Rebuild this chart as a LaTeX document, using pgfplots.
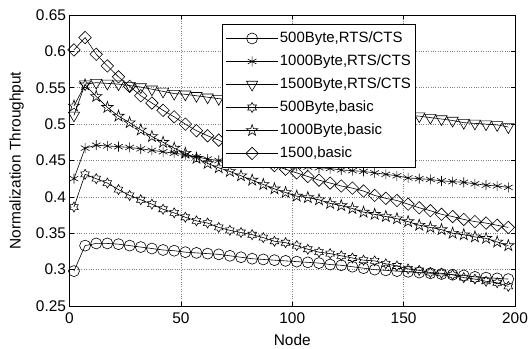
\documentclass[border=0pt]{standalone}
\usepackage{pgfplots}
\pgfplotsset{compat=1.18}
\usepackage{pgfplotstable}
\usepackage{fontspec}
\setmainfont{Liberation Sans}

\pgfdeclareplotmark{pentagram}{%
  \pgfpathmoveto{\pgfpointpolar{90}{\pgfplotmarksize}}%
  \pgfpathlineto{\pgfpointpolar{126}{0.382\pgfplotmarksize}}%
  \pgfpathlineto{\pgfpointpolar{162}{\pgfplotmarksize}}%
  \pgfpathlineto{\pgfpointpolar{198}{0.382\pgfplotmarksize}}%
  \pgfpathlineto{\pgfpointpolar{234}{\pgfplotmarksize}}%
  \pgfpathlineto{\pgfpointpolar{270}{0.382\pgfplotmarksize}}%
  \pgfpathlineto{\pgfpointpolar{306}{\pgfplotmarksize}}%
  \pgfpathlineto{\pgfpointpolar{342}{0.382\pgfplotmarksize}}%
  \pgfpathlineto{\pgfpointpolar{18}{\pgfplotmarksize}}%
  \pgfpathlineto{\pgfpointpolar{54}{0.382\pgfplotmarksize}}%
  \pgfpathclose\pgfusepathqstroke}
\pgfdeclareplotmark{hexagram}{%
  \pgfpathmoveto{\pgfpointpolar{90}{\pgfplotmarksize}}%
  \pgfpathlineto{\pgfpointpolar{120}{0.577\pgfplotmarksize}}%
  \pgfpathlineto{\pgfpointpolar{150}{\pgfplotmarksize}}%
  \pgfpathlineto{\pgfpointpolar{180}{0.577\pgfplotmarksize}}%
  \pgfpathlineto{\pgfpointpolar{210}{\pgfplotmarksize}}%
  \pgfpathlineto{\pgfpointpolar{240}{0.577\pgfplotmarksize}}%
  \pgfpathlineto{\pgfpointpolar{270}{\pgfplotmarksize}}%
  \pgfpathlineto{\pgfpointpolar{300}{0.577\pgfplotmarksize}}%
  \pgfpathlineto{\pgfpointpolar{330}{\pgfplotmarksize}}%
  \pgfpathlineto{\pgfpointpolar{0}{0.577\pgfplotmarksize}}%
  \pgfpathlineto{\pgfpointpolar{30}{\pgfplotmarksize}}%
  \pgfpathlineto{\pgfpointpolar{60}{0.577\pgfplotmarksize}}%
  \pgfpathclose\pgfusepathqstroke}

\pgfplotstableread{
x a b c d e f
2 0.298 0.425 0.512 0.386 0.525 0.602
7 0.333 0.467 0.555 0.431 0.554 0.619
12 0.336 0.471 0.557 0.425 0.538 0.596
17 0.336 0.470 0.556 0.419 0.523 0.580
22 0.335 0.469 0.555 0.410 0.511 0.565
27 0.333 0.468 0.553 0.402 0.502 0.552
32 0.331 0.466 0.551 0.396 0.492 0.539
37 0.329 0.464 0.548 0.390 0.483 0.529
42 0.327 0.462 0.545 0.383 0.475 0.519
47 0.326 0.460 0.542 0.378 0.467 0.510
52 0.324 0.458 0.541 0.372 0.460 0.500
57 0.323 0.455 0.539 0.367 0.453 0.491
62 0.322 0.452 0.537 0.364 0.446 0.484
67 0.321 0.450 0.535 0.358 0.440 0.478
72 0.319 0.449 0.534 0.354 0.435 0.470
77 0.317 0.448 0.533 0.351 0.429 0.463
82 0.315 0.447 0.531 0.348 0.423 0.456
87 0.314 0.446 0.530 0.344 0.417 0.449
92 0.313 0.445 0.529 0.339 0.411 0.443
97 0.312 0.444 0.527 0.337 0.406 0.438
102 0.311 0.442 0.526 0.333 0.401 0.433
107 0.310 0.441 0.525 0.328 0.399 0.428
112 0.309 0.440 0.523 0.324 0.396 0.423
117 0.307 0.439 0.522 0.322 0.391 0.419
122 0.306 0.437 0.521 0.319 0.388 0.415
127 0.304 0.436 0.519 0.316 0.384 0.412
132 0.302 0.435 0.518 0.313 0.379 0.408
137 0.300 0.433 0.517 0.312 0.376 0.402
142 0.299 0.431 0.515 0.308 0.373 0.398
147 0.298 0.429 0.514 0.305 0.370 0.395
152 0.297 0.426 0.512 0.301 0.366 0.390
157 0.296 0.425 0.511 0.299 0.361 0.385
162 0.295 0.424 0.509 0.296 0.358 0.381
167 0.294 0.422 0.507 0.295 0.355 0.376
172 0.293 0.421 0.505 0.293 0.350 0.373
177 0.292 0.420 0.502 0.289 0.348 0.369
182 0.290 0.418 0.501 0.287 0.345 0.366
187 0.289 0.416 0.500 0.284 0.343 0.364
192 0.288 0.415 0.499 0.282 0.338 0.361
197 0.287 0.413 0.496 0.277 0.333 0.358
}\data

\begin{document}
\begin{tikzpicture}
\begin{axis}[
  at={(0,0)}, anchor=south west,
  scale only axis, width=445.5bp, height=291bp,
  xmin=0, xmax=200, ymin=0.25, ymax=0.65,
  xtick={0,50,100,150,200},
  ytick={0.25,0.3,0.35,0.4,0.45,0.5,0.55,0.6,0.65},
  yticklabels={0.25,0.3,0.35,0.4,0.45,0.5,0.55,0.6,0.65},
  tick align=inside, tick pos=both, major tick length=4bp,
  grid=major, major grid style={dotted, gray, line width=0.6bp},
  axis line style={line width=0.9bp},
  every tick/.style={black, line width=0.6bp},
  /pgf/number format/assume math mode=true,
  tick label style={font=\fontsize{15.5}{18}\selectfont},
  xticklabel style={yshift=-3bp},
  xlabel={Node}, ylabel={Normalization Throughput},
  label style={font=\fontsize{15.5}{18}\selectfont},
  xlabel style={at={(axis description cs:0.5,-0.137)}, anchor=base},
  ylabel style={at={(axis description cs:-0.1098,0.5)}, anchor=base, rotate=0},
  legend cell align=left,
  legend style={at={(axis description cs:0.3431,0.969)}, anchor=north west,
    draw=black, line width=0.9bp, fill=white, inner xsep=3bp, inner ysep=2.5bp,
    font=\fontsize{15}{18}\selectfont,
    nodes={inner xsep=1.5bp, inner ysep=4bp, text height=11.5bp, text depth=3.5bp}},
  legend image code/.code={\draw[mark repeat=2,mark phase=2,#1] plot coordinates {(0bp,0bp) (26bp,0bp) (52bp,0bp)};},
  every axis plot/.append style={black, line width=0.6bp, mark options={solid, line width=0.6bp}},
]
\addplot[mark=o, mark size=5.5bp] table[x=x,y=a] {\data};
\addlegendentry{500Byte,RTS/CTS}
\addplot[mark=asterisk, mark size=5bp] table[x=x,y=b] {\data};
\addlegendentry{1000Byte,RTS/CTS}
\addplot[mark=triangle, mark size=6.5bp, mark options={rotate=180}] table[x=x,y=c] {\data};
\addlegendentry{1500Byte,RTS/CTS}
\addplot[mark=hexagram, mark size=5bp] table[x=x,y=d] {\data};
\addlegendentry{500Byte,basic}
\addplot[mark=pentagram, mark size=6bp] table[x=x,y=e] {\data};
\addlegendentry{1000Byte,basic}
\addplot[mark=square, mark size=4.4bp, mark options={rotate=45}] table[x=x,y=f] {\data};
\addlegendentry{1500,basic}
\end{axis}
\pgfresetboundingbox
\path[use as bounding box] (-69.5bp,-43bp) rectangle (460.5bp,306bp);
\end{tikzpicture}
\end{document}
